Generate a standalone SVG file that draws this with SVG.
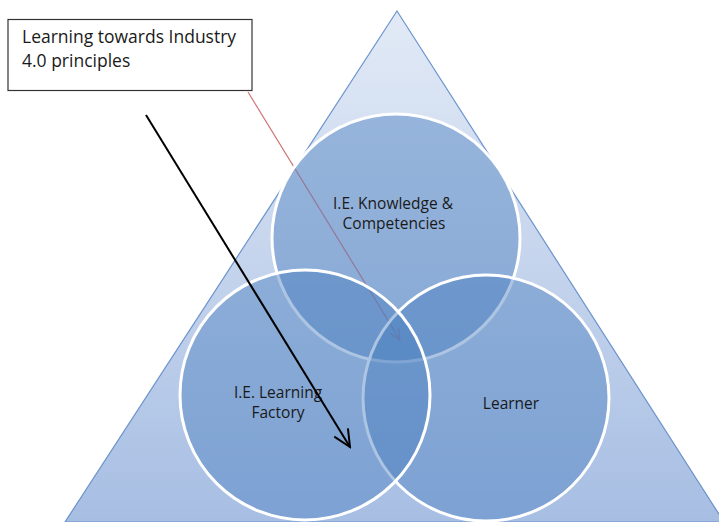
<svg xmlns="http://www.w3.org/2000/svg" width="719" height="522" viewBox="0 0 719 522">
<defs>
<linearGradient id="tri" x1="0" y1="0" x2="0" y2="1">
<stop offset="0" stop-color="#e2eaf6"/>
<stop offset="1" stop-color="#a7bee3"/>
</linearGradient>
<marker id="blk" markerWidth="20" markerHeight="20" refX="18" refY="10" orient="auto" markerUnits="userSpaceOnUse">
<path d="M1,2 L18,10 L1,18" fill="none" stroke="#000" stroke-width="2"/>
</marker>
<marker id="pnk" markerWidth="14" markerHeight="14" refX="12" refY="7" orient="auto" markerUnits="userSpaceOnUse">
<path d="M1,2 L12,7 L1,12" fill="none" stroke="#c9777b" stroke-width="1.2"/>
</marker>
</defs>
<style>
.c{fill:#4a7ebf;fill-opacity:0.45;stroke:#fff;stroke-width:3}
.t{font-family:"Open Sans","Liberation Sans",sans-serif;font-size:15.5px;fill:#1a1a1a;text-anchor:middle}
.b{font-family:"Open Sans","Liberation Sans",sans-serif;font-size:17.5px;fill:#1a1a1a}
</style>
<rect width="719" height="522" fill="#fff"/>
<g id="triangle">
<polygon points="397,11 65,522 724,522" fill="url(#tri)" stroke="#6b93cc" stroke-width="1.2"/>
</g>
<g id="connectors-under">
<line x1="248" y1="92" x2="400" y2="340" stroke="#cf7377" stroke-width="1.2" marker-end="url(#pnk)"/>
</g>
<g id="node-knowledge">
<circle class="c" cx="396" cy="238" r="124"/>
</g>
<g id="node-learner">
<circle class="c" cx="486" cy="398" r="123"/>
</g>
<g id="node-factory">
<circle class="c" cx="305" cy="395" r="125"/>
</g>
<g id="labels">
<text class="t" x="393" y="209">I.E. Knowledge &amp;</text>
<text class="t" x="394" y="229">Competencies</text>
<text class="t" x="278" y="398">I.E. Learning</text>
<text class="t" x="278" y="418">Factory</text>
<text class="t" x="511" y="409">Learner</text>
</g>
<g id="connectors">
<line x1="146" y1="115" x2="350" y2="447" stroke="#000" stroke-width="2" marker-end="url(#blk)"/>
</g>
<g id="node-box">
<rect x="8" y="19.5" width="244" height="71" fill="#fff" stroke="#333" stroke-width="1.2"/>
<text class="b" x="22" y="43">Learning towards Industry</text>
<text class="b" x="22" y="67">4.0 principles</text>
</g>
</svg>
